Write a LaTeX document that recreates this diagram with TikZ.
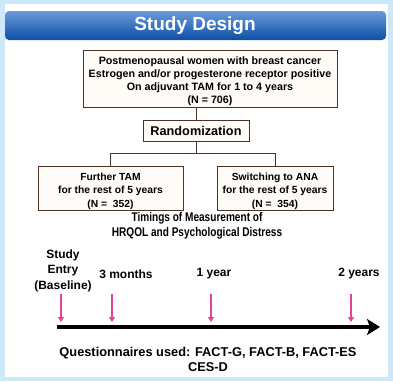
\documentclass[tikz,border=0pt]{standalone}
\usepackage{fontspec}
\setmainfont{Liberation Sans}
\newfontfamily\condfont{Liberation Sans}[FakeStretch=0.8]
\usetikzlibrary{arrows.meta}
\definecolor{bgblue}{HTML}{CDE8F8}
\definecolor{bartop}{HTML}{6A9AD8}
\definecolor{barbot}{HTML}{0D4EA6}
\definecolor{boxline}{HTML}{4E3226}
\definecolor{boxfill}{HTML}{FFFCF8}
\definecolor{pinkarrow}{HTML}{E0459C}
\begin{document}
\begin{tikzpicture}[x=1pt,y=-1pt,
  box/.style={draw=boxline, line width=1pt, fill=boxfill, align=center, inner sep=0pt},
  conn/.style={draw=boxline, line width=1pt},
  pinkarr/.style={draw=pinkarrow, line width=1.8pt, -{Triangle[length=5pt,width=6pt]}},
  lbl/.style={align=center, inner sep=0pt, font=\bfseries\fontsize{12}{15.5}\selectfont}]
\useasboundingbox (0,0) rectangle (393,381);
\fill[bgblue] (0,0) rectangle (393,381);
\fill[white] (5,4) rectangle (388,377);
\shade[top color=bartop, bottom color=barbot, rounded corners=4pt] (5,11) rectangle (386,40);
\node[text=white, inner sep=0pt, font=\bfseries\fontsize{19}{22}\selectfont] (title) at (195,25.5) {Study Design};

\node[box, minimum width=254pt, minimum height=57pt, font=\bfseries\fontsize{10.7}{13}\selectfont] (main) at (210,78.5)
  {\rule{0pt}{13pt}Postmenopausal women with breast cancer\\Estrogen and/or progesterone receptor positive\\On adjuvant TAM for 1 to 4 years\\(N = 706)};
\node[box, minimum width=106pt, minimum height=21pt, font=\bfseries\fontsize{12.7}{14}\selectfont] (rand) at (196,130.5) {Randomization};
\node[box, minimum width=145pt, minimum height=44pt, font=\bfseries\fontsize{10.3}{13.5}\selectfont] (left) at (110.5,188)
  {\rule{0pt}{13.5pt}Further TAM\\for the rest of 5 years\\(N =\ \ 352)};
\node[box, minimum width=116pt, minimum height=44pt, font=\bfseries\fontsize{10.3}{13.5}\selectfont] (right) at (275,188)
  {\rule{0pt}{13.5pt}Switching to ANA\\for the rest of 5 years\\(N =\ \ 354)};

\draw[conn] (rand.north) -- (rand.north |- main.south);
\coordinate (split) at (196,153);
\draw[conn] (rand.south) -- (split) -| (left.north);
\draw[conn] (split) -| (right.north);

\node[lbl, font=\condfont\bfseries\fontsize{12.6}{15}\selectfont] (timings) at (197,225.5) {Timings of Measurement of\\HRQOL and Psychological Distress};

\node[lbl] (entry) at (63,270.5) {Study\\Entry\\(Baseline)};
\node[lbl] (m3) at (126,274) {3 months};
\node[lbl] (y1) at (214,274) {1 year};
\node[lbl] (y2) at (359,274) {2 years};

\foreach \n/\x in {a/61,b/112,c/211,d/351}{
  \coordinate (\n s) at (\x,294);
  \coordinate (\n e) at (\x,322);
  \draw[pinkarr] (\n s) -- (\n e);
}

\coordinate (axs) at (57,327);
\coordinate (axe) at (380,327);
\draw[line width=4.5pt, -{Stealth[length=13pt,width=16pt,inset=3pt]}] (axs) -- (axe);

\node[lbl, font=\bfseries\fontsize{12.8}{15}\selectfont] (quest) at (208,359.5) {Questionnaires used: FACT-G, FACT-B, FACT-ES\\CES-D};
\end{tikzpicture}
\end{document}
